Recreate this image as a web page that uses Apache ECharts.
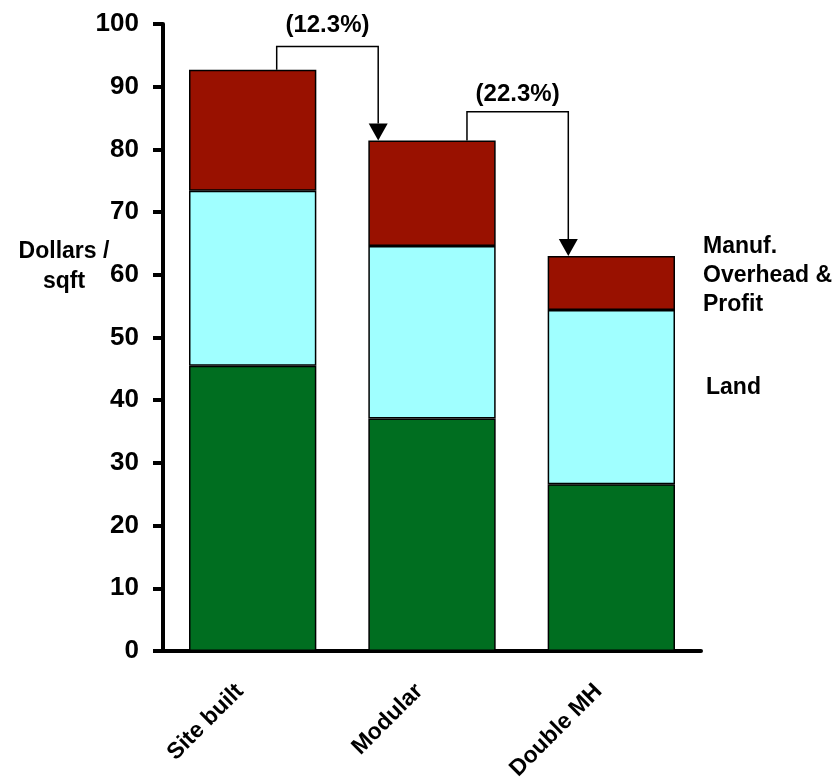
<!DOCTYPE html>
<html>
<head>
<meta charset="utf-8">
<script src="https://cdn.jsdelivr.net/npm/echarts@6/dist/echarts.min.js"></script>
<style>
html,body{margin:0;padding:0;background:#fff;}
#chart{width:839px;height:779px;}
</style>
</head>
<body>
<div id="chart"></div>
<script>
// ---- data ----
const categories = ['Site built', 'Modular', 'Double MH'];
const seriesNames = ['Construction', 'Land', 'Manuf. Overhead & Profit'];
const baseValues = [45.5, 37.1, 26.6];
const landValues = [27.9, 27.5, 27.8];
const overheadValues = [19.3, 16.8, 8.6];
const yTicks = [0, 10, 20, 30, 40, 50, 60, 70, 80, 90, 100];
const connectorFrom = [0, 1];
const connectorTo = [1, 2];
const connectorTop = [96.4, 86.0];
const connectorLabels = ['(12.3%)', '(22.3%)'];
const connectorLabelValue = [99.8, 88.7];

// ---- layout (not data) ----
const fromOffset = [0.134, 0.195];  // fraction of band from source bar centre
const toOffset = [-0.30, -0.24];    // fraction of band from target bar centre
const FONT = '"Liberation Sans", Arial, sans-serif';
const colors = ['#006E20', '#A0FFFF', '#991100'];

const totals = categories.map((c, i) => baseValues[i] + landValues[i] + overheadValues[i]);

const chart = echarts.init(document.getElementById('chart'));

const barSeries = [baseValues, landValues, overheadValues].map((vals, k) => ({
  name: seriesNames[k],
  type: 'bar',
  stack: 'cost',
  barCategoryGap: '29%',
  data: vals,
  itemStyle: { color: colors[k], borderColor: '#000', borderWidth: 1.5 },
  emphasis: { disabled: true },
  z: 2
}));

const connectorSeries = {
  type: 'custom',
  coordinateSystem: 'cartesian2d',
  clip: false,
  silent: true,
  z: 5,
  data: connectorFrom.map((f, i) => [f, connectorTop[i]]),
  encode: { x: 0, y: 1 },
  renderItem: function (params, api) {
    const i = params.dataIndex;
    const f = connectorFrom[i], t = connectorTo[i];
    const band = api.size([1, 0])[0];
    const x0 = api.coord([f, 0])[0] + fromOffset[i] * band;
    const y0 = api.coord([f, totals[f]])[1];
    const yTop = api.coord([f, connectorTop[i]])[1];
    const x1 = api.coord([t, 0])[0] + toOffset[i] * band;
    const yTip = api.coord([t, totals[t]])[1];
    const ah = 17, aw = 9.5;
    const yLab = api.coord([f, connectorLabelValue[i]])[1];
    return {
      type: 'group',
      children: [
        { type: 'polyline', shape: { points: [[x0, y0], [x0, yTop], [x1, yTop], [x1, yTip - ah]] },
          style: { stroke: '#000', lineWidth: 1.5, fill: null } },
        { type: 'polygon', shape: { points: [[x1 - aw, yTip - ah], [x1 + aw, yTip - ah], [x1, yTip]] },
          style: { fill: '#000' } },
        { type: 'text', x: (x0 + x1) / 2, y: yLab,
          style: { text: connectorLabels[i], font: 'bold 24px ' + FONT, fill: '#000', align: 'center', verticalAlign: 'middle' } }
      ]
    };
  }
};

chart.setOption({
  animation: false,
  backgroundColor: '#fff',
  grid: { left: 163, right: 138, top: 24, bottom: 128, containLabel: false, outerBoundsMode: 'none' },
  xAxis: {
    type: 'category',
    data: categories,
    axisLine: { show: true, lineStyle: { color: '#000', width: 4 } },
    axisTick: { show: false },
    axisLabel: { rotate: 45, margin: 24, padding: [0, 18, 0, 0], color: '#000', fontFamily: FONT, fontWeight: 'bold', fontSize: 23 },
    splitLine: { show: false }
  },
  yAxis: {
    type: 'value',
    min: yTicks[0],
    max: yTicks[yTicks.length - 1],
    interval: yTicks[1] - yTicks[0],
    axisLine: { show: true, lineStyle: { color: '#000', width: 4 } },
    axisTick: { show: true, length: 10, lineStyle: { color: '#000', width: 4 } },
    axisLabel: { margin: 24, color: '#000', fontFamily: FONT, fontWeight: 'bold', fontSize: 26 },
    splitLine: { show: false }
  },
  series: barSeries.concat([connectorSeries]),
  graphic: [
    { type: 'text', x: 64, y: 267,
      style: { text: 'Dollars /\nsqft', font: 'bold 23px ' + FONT, fill: '#000', align: 'center', verticalAlign: 'middle', lineHeight: 30 } },
    { type: 'text', x: 703, y: 276,
      style: { text: seriesNames[2].replace(' Overhead', '\nOverhead').replace('& ', '&\n'), font: 'bold 23px ' + FONT, fill: '#000', align: 'left', verticalAlign: 'middle', lineHeight: 29 } },
    { type: 'text', x: 706, y: 388,
      style: { text: seriesNames[1], font: 'bold 23px ' + FONT, fill: '#000', align: 'left', verticalAlign: 'middle' } }
  ]
});
</script>
</body>
</html>
